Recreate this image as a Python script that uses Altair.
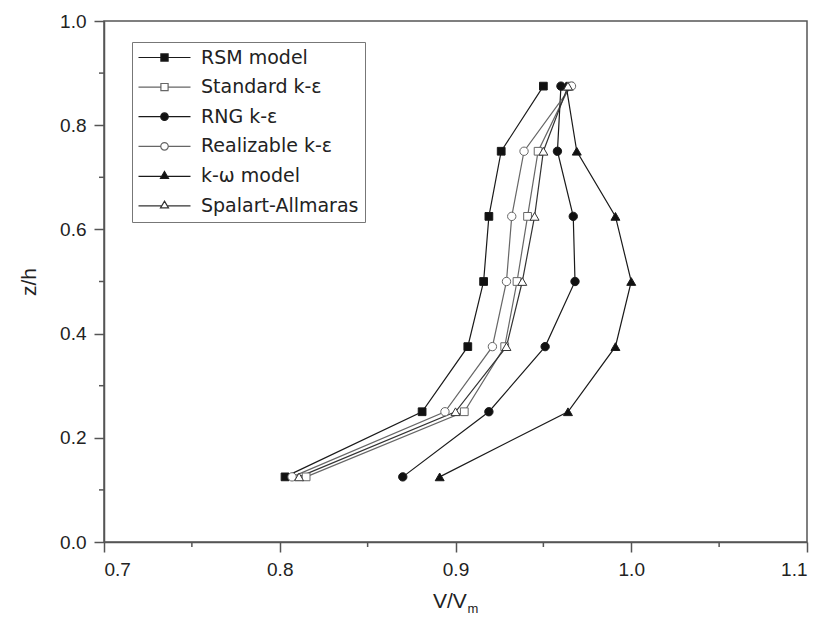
import altair as alt
import pandas as pd

# ---- data ----
z_levels = [0.125, 0.25, 0.375, 0.5, 0.625, 0.75, 0.875]
models = ["RSM model", "Standard k-ε", "RNG k-ε", "Realizable k-ε", "k-ω model", "Spalart-Allmaras"]
rsm = [0.803, 0.881, 0.907, 0.916, 0.919, 0.926, 0.950]
standard = [0.815, 0.905, 0.928, 0.935, 0.941, 0.947, 0.965]
rng = [0.870, 0.919, 0.951, 0.968, 0.967, 0.958, 0.960]
realizable = [0.807, 0.894, 0.921, 0.929, 0.932, 0.939, 0.966]
komega = [0.891, 0.964, 0.991, 1.000, 0.991, 0.969, 0.963]
spalart = [0.811, 0.900, 0.929, 0.938, 0.945, 0.950, 0.964]
series = [rsm, standard, rng, realizable, komega, spalart]

x_ticks = [0.7, 0.8, 0.9, 1.0, 1.1]
x_minor = [0.75, 0.85, 0.95, 1.05]
y_ticks = [0.0, 0.2, 0.4, 0.6, 0.8, 1.0]
y_minor = [0.1, 0.3, 0.5, 0.7, 0.9]
x_title_main = ["V/V"]
x_title_sub = ["m"]

fills = ["#111111", "#ffffff", "#111111", "#ffffff", "#111111", "#ffffff"]
strokes = ["#1a1a1a", "#666666", "#1a1a1a", "#666666", "#1a1a1a", "#333333"]
marker_shape = {"RSM model": "square", "Standard k-ε": "square",
                "RNG k-ε": "circle", "Realizable k-ε": "circle",
                "k-ω model": "triangle-up", "Spalart-Allmaras": "triangle-up"}

# legend symbols: line with marker in the middle (custom paths)
seg = "M-3.25,0H-0.45M0.45,0H3.25"
sq = seg + "M-0.45,-0.45H0.45V0.45H-0.45Z"
ci = seg + "M-0.47,0A0.47,0.47,0,1,0,0.47,0A0.47,0.47,0,1,0,-0.47,0Z"
tr = "M-3.25,0.05H-0.4M0.4,0.05H3.25M0,-0.55L0.5,0.3L-0.5,0.3Z"
legend_shapes = [sq, sq, ci, ci, tr, tr]

rows = []
for m, vals in zip(models, series):
    for z, v in zip(z_levels, vals):
        rows.append({"model": m, "V": v, "z": z, "mk": marker_shape[m]})
df = pd.DataFrame(rows)

xscale = alt.Scale(domain=[0.7, 1.1], nice=False, zero=False)
yscale = alt.Scale(domain=[0.0, 1.0], nice=False, zero=False)
xaxis = alt.Axis(values=x_ticks, format=".1f", title=None)
yaxis = alt.Axis(values=y_ticks, format=".1f", title="z/h")

fill_scale = alt.Scale(domain=models, range=fills)
stroke_scale = alt.Scale(domain=models, range=strokes)
shape_scale = alt.Scale(domain=models, range=legend_shapes)

leg = alt.Legend(title=None, orient="none", legendX=28, legendY=21,
                 symbolSize=256, symbolStrokeWidth=1.2, symbolOffset=17,
                 symbolOpacity=1, labelOffset=27, labelFontSize=19,
                 labelColor="#222", labelFont="DejaVu Sans",
                 rowPadding=9.6, padding=6, strokeColor="#777", labelLimit=300)

base = alt.Chart(df)

# legend-only layer (invisible marks, first so its legend settings win)
legend_layer = base.mark_point(
    filled=True, opacity=0, strokeWidth=1.2
).encode(
    x=alt.X("V:Q", scale=xscale, axis=xaxis),
    y=alt.Y("z:Q", scale=yscale, axis=yaxis),
    fill=alt.Fill("model:N", scale=fill_scale, legend=leg),
    stroke=alt.Stroke("model:N", scale=stroke_scale, legend=leg),
    shape=alt.Shape("model:N", scale=shape_scale, legend=leg),
)

lines = base.mark_line(strokeWidth=1.2).encode(
    x=alt.X("V:Q", scale=xscale, axis=xaxis),
    y=alt.Y("z:Q", scale=yscale, axis=yaxis),
    stroke=alt.Stroke("model:N", scale=stroke_scale, legend=None),
    order=alt.Order("z:Q"),
)

point_layers = []
for shp, sz in [("square", 60), ("circle", 70), ("triangle-up", 80)]:
    point_layers.append(
        base.transform_filter(alt.datum.mk == shp).mark_point(
            shape=shp, filled=True, size=sz, opacity=1, strokeWidth=1
        ).encode(
            x=alt.X("V:Q", scale=xscale, axis=xaxis),
            y=alt.Y("z:Q", scale=yscale, axis=yaxis),
            fill=alt.Fill("model:N", scale=fill_scale, legend=None),
            stroke=alt.Stroke("model:N", scale=stroke_scale, legend=None),
        )
    )

xminor = alt.Chart(pd.DataFrame({"V": x_minor})).mark_rule(color="#555", strokeWidth=1.5).encode(
    x=alt.X("V:Q", scale=xscale, axis=xaxis),
    y=alt.value(521), y2=alt.value(526),
)
yminor = alt.Chart(pd.DataFrame({"z": y_minor})).mark_rule(color="#555", strokeWidth=1.5).encode(
    y=alt.Y("z:Q", scale=yscale, axis=yaxis),
    x=alt.value(0), x2=alt.value(-5),
)

# x-axis title with subscript m
xt_main = alt.Chart(pd.DataFrame({"t": x_title_main})).mark_text(
    align="left", baseline="alphabetic", fontSize=21, font="Liberation Sans", color="#222"
).encode(text="t:N", x=alt.value(329), y=alt.value(587))
xt_sub = alt.Chart(pd.DataFrame({"t": x_title_sub})).mark_text(
    align="left", baseline="alphabetic", fontSize=13, font="Liberation Sans", color="#222"
).encode(text="t:N", x=alt.value(363.5), y=alt.value(592))

chart = alt.layer(legend_layer, lines, *point_layers, xminor, yminor, xt_main, xt_sub).properties(
    width=703, height=521,
    autosize=alt.AutoSizeParams(type="none"),
    padding={"left": 104, "top": 21, "right": 18, "bottom": 86},
    background="white",
).configure_view(
    stroke="#555", strokeWidth=1.5
).configure_axis(
    domainColor="#555", domainWidth=1.5, tickColor="#555", tickWidth=1.5,
    tickSize=10, labelPadding=8, labelFontSize=19, labelFont="Liberation Sans",
    labelColor="#222", titleFont="Liberation Sans", titleFontSize=21,
    titleFontWeight="normal", titleColor="#222", grid=False,
).configure_axisY(titlePadding=20)

chart.save("out.html", embed_options={"renderer": "svg", "actions": False})
